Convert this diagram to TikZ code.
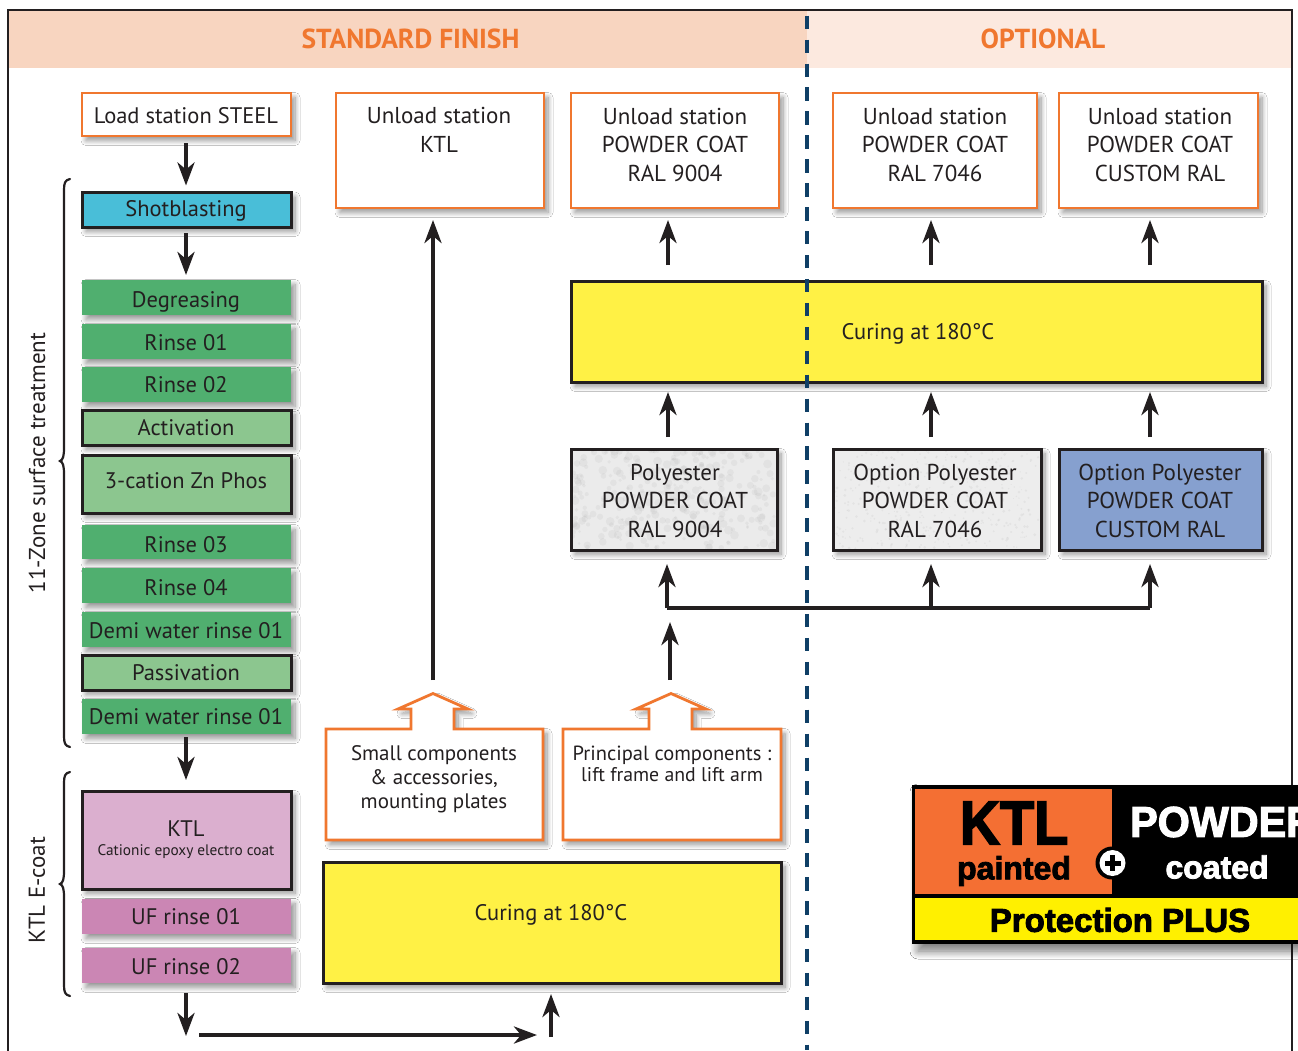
\documentclass[tikz,border=0pt]{standalone}
\usepackage{fontspec}
\setmainfont{PT Sans}
\newfontfamily\heavyf[BoldFeatures={FakeBold=2.6}]{Liberation Sans}
\usetikzlibrary{arrows.meta,shadows.blur,calc}
\definecolor{ink}{HTML}{231F20}
\definecolor{orng}{HTML}{F0772F}
\definecolor{hdrA}{HTML}{F8D5C0}
\definecolor{hdrB}{HTML}{FCE9DF}
\definecolor{cyanbox}{HTML}{49BED8}
\definecolor{grn}{HTML}{50AF6F}
\definecolor{lgrn}{HTML}{8CC68F}
\definecolor{lpink}{HTML}{DBAFCF}
\definecolor{pnk}{HTML}{CB86B4}
\definecolor{ylw}{HTML}{FFF145}
\definecolor{blu}{HTML}{86A0CF}
\definecolor{navy}{HTML}{0F3F66}
\definecolor{logoor}{HTML}{F46F33}
\definecolor{logoyl}{HTML}{FFF000}
\tikzset{
  x=1pt,y=-1pt,
  soft/.style={blur shadow={shadow xshift=4pt,shadow yshift=-4.5pt,shadow blur radius=5pt,shadow blur steps=10,shadow opacity=42}},
  basebox/.style={rectangle,inner sep=0pt,outer sep=0pt,soft},
  obox/.style={basebox,draw=orng,line width=2.8pt,fill=white},
  kbox/.style={basebox,draw=ink,line width=3pt},
  gbox/.style={basebox,fill=grn},
  txt/.style={text=ink,font=\fontsize{23}{28.5}\selectfont,align=center,inner sep=0pt},
  onetxt/.style={text=ink,font=\fontsize{22.5}{28}\selectfont,inner sep=0pt,text height=16pt,text depth=0pt},
  smalltxt/.style={text=ink,font=\fontsize{21}{24}\selectfont,align=center,inner sep=0pt},
  arr/.style={draw=ink,line width=3.9pt,-{Stealth[length=23pt,width=17pt,inset=7pt]}},
  arrb/.style={arr,line width=4.4pt},
  plain/.style={draw=ink,line width=3.6pt},
  brc/.style={draw=ink,line width=2.2pt,line cap=round},
  callout/.style={draw=orng,line width=2.8pt,fill=white,soft,line join=miter},
  hdr/.style={text=orng,font=\fontsize{27.5}{30}\selectfont\bfseries,inner sep=0pt},
}
\newcommand{\pbox}[6]{\node[#2,minimum width={(#5-#3)*1pt},minimum height={(#6-#4)*1pt}] (#1) at ({(#3+#5)/2},{(#4+#6)/2}) {};}
\newcommand{\ptext}[4]{\node[onetxt] (#1) at (#2,#3) {#4};}
% clip box, seed, count, radius base, radius spread, opacity
\newcommand{\speckle}[9]{%
  \begin{scope}
  \clip (#1,#2) rectangle (#3,#4);
  \pgfmathsetseed{#5}
  \foreach \i in {1,...,#6}{
    \pgfmathsetmacro{\px}{#1+rnd*(#3-#1)}
    \pgfmathsetmacro{\py}{#2+rnd*(#4-#2)}
    \pgfmathsetmacro{\pr}{#7+rnd*#8}
    \fill[black,opacity=#9] (\px,\py) circle[radius=\pr];
  }
  \end{scope}}
\begin{document}
\begin{tikzpicture}
\useasboundingbox[clip] (0,0) rectangle (1298,1050);
\fill[white] (0,0) rectangle (1298,1050);
% header bands and frame
\fill[hdrA] (8,10) rectangle (807,68);
\fill[hdrB] (807,10) rectangle (1292,68);
\draw[ink,line width=1.2pt] (8,1060) -- (8,10) -- (1292,10) -- (1292,1060);
\node[hdr] (stdhdr) at (410.5,38.5) {STANDARD FINISH};
\node[hdr] (opthdr) at (1043,38.5) {OPTIONAL};
% left column
\pbox{load}{obox}{82}{93}{291}{136}
\ptext{tload}{186}{115}{Load station STEEL}
\pbox{shot}{kbox,fill=cyanbox}{82}{192.5}{291}{227}
\ptext{tshot}{186}{208}{Shotblasting}
\pbox{degr}{gbox}{82}{280}{291}{315}
\ptext{tdegr}{186}{299}{Degreasing}
\pbox{r1}{gbox}{82}{324}{291}{359}
\ptext{tr1}{186}{342}{Rinse 01}
\pbox{r2}{gbox}{82}{367}{291}{402}
\ptext{tr2}{186}{384}{Rinse 02}
\pbox{activ}{kbox,fill=lgrn}{82}{410}{291}{445}
\ptext{tactiv}{186}{427}{Activation}
\pbox{zn}{kbox,fill=lgrn}{82}{455}{291}{513}
\ptext{tzn}{186}{480}{3-cation Zn Phos}
\pbox{r3}{gbox}{82}{525}{291}{559}
\ptext{tr3}{186}{544}{Rinse 03}
\pbox{r4}{gbox}{82}{568}{291}{603}
\ptext{tr4}{186}{587}{Rinse 04}
\pbox{demiA}{gbox}{82}{612}{291}{647}
\ptext{tdemiA}{186}{630}{Demi water rinse 01}
\pbox{pass}{kbox,fill=lgrn}{82}{655}{291}{690}
\ptext{tpass}{186}{672}{Passivation}
\pbox{demiB}{gbox}{82}{699}{291}{734}
\ptext{tdemiB}{186}{716}{Demi water rinse 01}
\pbox{ktl}{kbox,fill=lpink}{82}{791}{291}{889}
\ptext{tktl}{186}{828}{KTL}
\node[text=ink,font=\fontsize{15.3}{18}\selectfont,inner sep=0pt] (tktls) at (186,852) {Cationic epoxy electro coat};
\pbox{ufA}{basebox,fill=pnk}{82}{899}{291}{934}
\ptext{tufA}{186}{916}{UF rinse 01}
\pbox{ufB}{basebox,fill=pnk}{82}{948}{291}{983}
\ptext{tufB}{186}{966}{UF rinse 02}
% braces
\draw[brc] (70,179) .. controls (65,180) and (64,183) .. (64,190) -- (64,448)
   .. controls (64,456) and (63,460) .. (60,461) .. controls (63,462) and (64,466) .. (64,474)
   -- (64,736) .. controls (64,743) and (65,746) .. (70,747);
\draw[brc] (70,772) .. controls (65,773) and (64,776) .. (64,783) -- (64,871)
   .. controls (64,879) and (63,883) .. (60,884) .. controls (63,885) and (64,889) .. (64,897)
   -- (64,985) .. controls (64,992) and (65,995) .. (70,996);
\node[txt,rotate=90] (zonelbl) at (37,463) {11-Zone surface treatment};
\node[txt,rotate=90] (ecoatlbl) at (37,890) {KTL E-coat};
% left column arrows
\draw[arrb,shorten <=7pt,shorten >=7pt] (load.south -| 186,0) -- (shot.north -| 186,0);
\draw[arrb,shorten <=6pt,shorten >=5pt] (shot.south -| 186,0) -- (degr.north -| 186,0);
\coordinate (lowA) at (186,780);
\draw[arrb,shorten <=3pt] (demiB.south -| lowA) -- (lowA);
\coordinate (lowB) at (186,1036);
\draw[arrb,shorten <=10pt] (ufB.south -| lowB) -- (lowB);
\coordinate (busA) at (199,1035);
\coordinate (busB) at (537,1035);
\draw[arr] (busA) -- (busB);
% lower curing
\pbox{curA}{kbox,fill=ylw}{323}{862}{781}{983}
\ptext{tcurA}{551}{912}{Curing at 180°C}
\coordinate (curAin) at (551,1037);
\draw[arr,shorten >=11pt] (curAin) -- (curAin |- curA.south);
% top row
\pbox{uKtl}{obox}{336}{93}{544}{208}
\node[txt] (tuKtl) at (439,130) {Unload station\\KTL};
\pbox{uA}{obox}{571}{93}{779}{208}
\node[txt] (tuA) at (675,144.5) {Unload station\\POWDER COAT\\RAL 9004};
\pbox{uB}{obox}{833}{93}{1037}{208}
\node[txt] (tuB) at (935,144.5) {Unload station\\POWDER COAT\\RAL 7046};
\pbox{uC}{obox}{1059}{93}{1258}{208}
\node[txt] (tuC) at (1160,144.5) {Unload station\\POWDER COAT\\CUSTOM RAL};
% upper curing
\pbox{curB}{kbox,fill=ylw}{571}{281}{1262}{382}
\ptext{tcurB}{918}{331}{Curing at 180°C}
% powder boxes
\pbox{pA}{kbox,fill=gray!16}{571}{449}{777}{550}
\speckle{572.5}{450.5}{775.5}{548.5}{11}{320}{1.5}{3}{0.035}
\node[txt] (tpA) at (675,500.5) {Polyester\\POWDER COAT\\RAL 9004};
\pbox{pB}{kbox,fill=gray!14}{833}{449}{1041}{550}
\speckle{834.5}{450.5}{1039.5}{548.5}{23}{420}{0.6}{1}{0.04}
\node[txt] (tpB) at (935,500.5) {Option Polyester\\POWDER COAT\\RAL 7046};
\pbox{pC}{kbox,fill=blu}{1059}{449}{1262}{550}
\node[txt] (tpC) at (1160,500.5) {Option Polyester\\POWDER COAT\\CUSTOM RAL};
% arrows: curing to unload
\coordinate (xA) at (668,0);\coordinate (xB) at (931,0);\coordinate (xC) at (1150,0);
\draw[arr,shorten <=16pt,shorten >=12pt] (curB.north -| xA) -- (uA.south -| xA);
\draw[arr,shorten <=16pt,shorten >=12pt] (curB.north -| xB) -- (uB.south -| xB);
\draw[arr,shorten <=16pt,shorten >=12pt] (curB.north -| xC) -- (uC.south -| xC);
% arrows: powder to curing
\draw[arr,shorten <=12pt,shorten >=10pt] (pA.north -| xA) -- (curB.south -| xA);
\draw[arr,shorten <=12pt,shorten >=10pt] (pB.north -| xB) -- (curB.south -| xB);
\draw[arr,shorten <=12pt,shorten >=10pt] (pC.north -| xC) -- (curB.south -| xC);
% bus
\coordinate (busL) at (667,608);
\coordinate (busM) at (931,608);
\coordinate (busR) at (1150,608);
\draw[plain] (busL) -- (busR);
\draw[arr,shorten >=14pt] (busL) -- (busL |- pA.south);
\draw[arr,shorten >=14pt] (busM) -- (busM |- pB.south);
\draw[arr,shorten >=14pt] (busR) -- (busR |- pC.south);
% callouts
\draw[callout] (326,729) -- (411,729) -- (411,709) -- (398,709) -- (433,693.5) -- (468,709) -- (454,709) -- (454,729) -- (543,729) -- (543,840) -- (326,840) -- cycle;
\draw[callout] (563,729) -- (649,729) -- (649,709) -- (636,709) -- (671,693.5) -- (706,709) -- (692,709) -- (692,729) -- (781,729) -- (781,840) -- (563,840) -- cycle;
\node[smalltxt] (cA) at (434,779) {Small components\\\& accessories,\\mounting plates};
\node[smalltxt,font=\fontsize{20.5}{21}\selectfont] (cB) at (672,763.5) {Principal components :\\{\fontsize{19.8}{21}\selectfont lift frame and lift arm}};
\coordinate (cAout) at (433,680);
\coordinate (cBout) at (670,680);
\coordinate (cBin) at (670,622);
\draw[arr,shorten >=12pt] (cAout) -- (cAout |- uKtl.south);
\draw[arr] (cBout) -- (cBin);
% divider
\draw[navy,line width=3.8pt,dash pattern=on 13.4pt off 10.53pt] (807,15.7) -- (807,1050);
% logo
\node[basebox,fill=black,minimum width=400pt,minimum height=159pt,anchor=north west,blur shadow={shadow xshift=6pt,shadow yshift=-7pt,shadow blur radius=8pt,shadow blur steps=10,shadow opacity=30}] (logo) at (912,785) {};
\fill[logoor] (915,789) rectangle (1112,894);
\fill[logoyl] (915,898) rectangle (1310,940);
\node[circle,fill=black,minimum size=33pt,inner sep=0pt] (plusring) at (1112,863) {};
\node[circle,fill=white,minimum size=26pt,inner sep=0pt] (plusdisc) at (1112.5,863) {};
\fill[black] (1110,855) rectangle (1115,871);
\fill[black] (1104.5,860.5) rectangle (1120.5,865.5);
\node[text=black,font=\heavyf\bfseries\fontsize{62}{62}\selectfont,inner sep=0pt] (lktl) at (1014,823) {\scalebox{.9}[1]{KTL}};
\node[text=black,font=\heavyf\bfseries\fontsize{32}{32}\selectfont,inner sep=0pt] (lpaint) at (1014,871) {painted};
\node[text=white,font=\heavyf\bfseries\fontsize{43}{43}\selectfont,inner sep=0pt,anchor=west] (lpow) at (1130,822) {\scalebox{.96}[1]{POWDER}};
\node[text=white,font=\heavyf\bfseries\fontsize{32}{32}\selectfont,inner sep=0pt] (lcoat) at (1217,867) {coated};
\node[text=black,font=\heavyf\bfseries\fontsize{33}{33}\selectfont,inner sep=0pt] (lprot) at (1120,920) {Protection PLUS};
\end{tikzpicture}
\end{document}
